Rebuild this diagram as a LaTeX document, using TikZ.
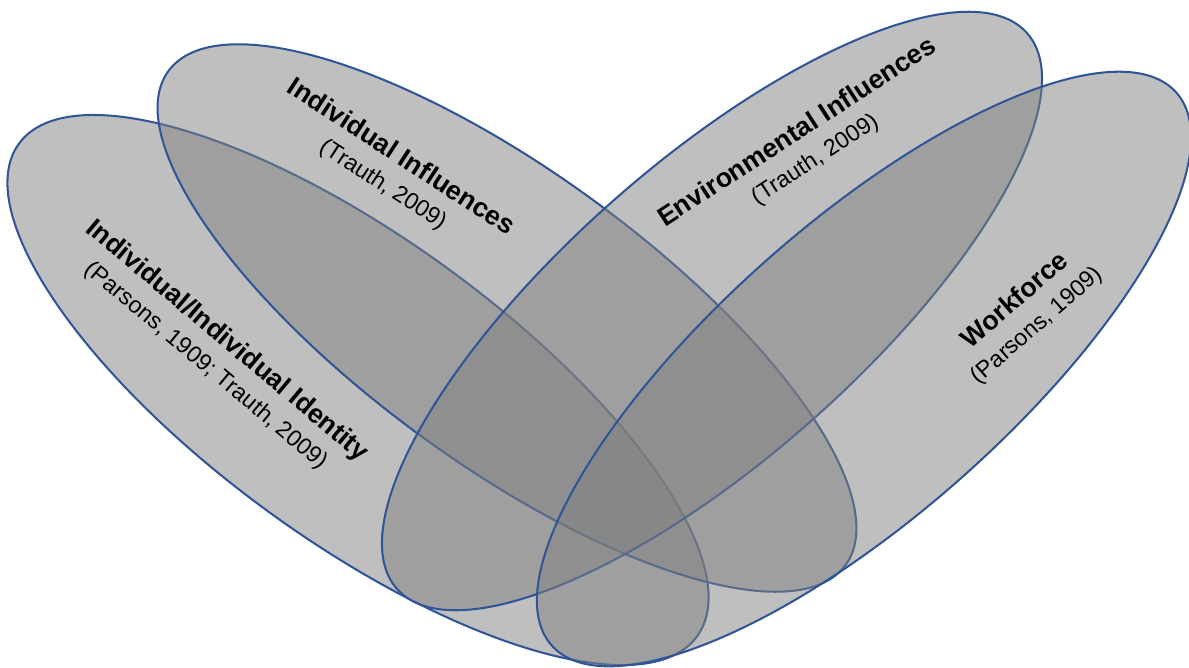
\documentclass[tikz,border=0pt]{standalone}
\usepackage{fontspec}
\setmainfont{Liberation Sans}
\usepackage{xcolor}
\usetikzlibrary{shapes.geometric}

\definecolor{petalblue}{RGB}{47,85,151}

\begin{document}
\begin{tikzpicture}[
  x=0.025cm, y=-0.025cm,
  petal/.style={ellipse, draw=petalblue, line width=1.45pt, fill=gray, fill opacity=0.5, inner sep=0pt},
  tag/.style={align=center, inner sep=0pt, font=\fontsize{16.5pt}{22.5pt}\selectfont},
]

\useasboundingbox (0,0) rectangle (1189,667);

\node[petal, minimum width=20.95cm, minimum height=7.55cm, rotate=-36] (identity) at (358,390) {};
\node[petal, minimum width=20.95cm, minimum height=7.3cm, rotate=-36.1] (indiv) at (507,318) {};
\node[petal, minimum width=21cm, minimum height=7.4cm, rotate=41.4] (environ) at (712,311) {};
\node[petal, minimum width=20.85cm, minimum height=7.3cm, rotate=41.5] (work) at (864,369) {};

\node[tag, rotate=-40] (identitytag) at (217,353) {
    {\fontsize{19pt}{22.5pt}\selectfont\bfseries Individual/Individual Identity}\\
    (Parsons, 1909; Trauth, 2009)
};

\node[tag, rotate=-33] (indivtag) at (392,171) {
    {\fontsize{19pt}{22.5pt}\selectfont\bfseries Individual Influences}\\
    (Trauth, 2009)
};

\node[tag, rotate=33] (environtag) at (806,146) {
    {\fontsize{19pt}{22.5pt}\selectfont\bfseries Environmental Influences}\\
    (Trauth, 2009)
};

\node[tag, rotate=41] (worktag) at (1026,313) {
    {\fontsize{19pt}{22.5pt}\selectfont\bfseries Workforce}\\
    (Parsons, 1909)
};

\end{tikzpicture}
\end{document}
